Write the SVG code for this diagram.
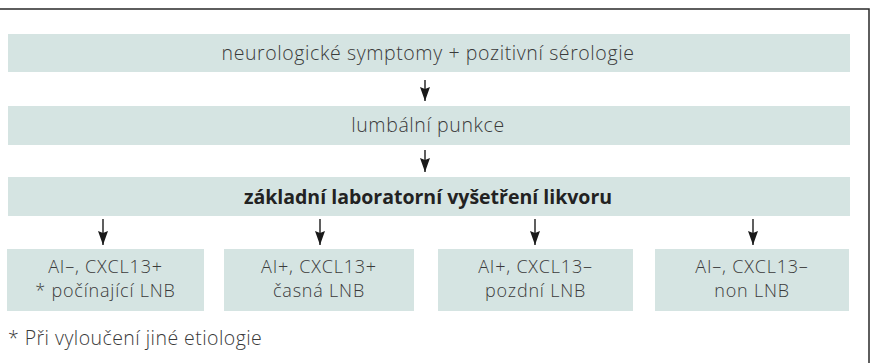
<svg xmlns="http://www.w3.org/2000/svg" width="871" height="363" viewBox="0 0 871 363">
<style>
.box{fill:#d5e4e2}
.t{font-family:"Open Sans","Noto Sans","Liberation Sans",sans-serif;font-size:19.5px;font-weight:300;letter-spacing:0.6px;fill:#3a3a3a;text-anchor:middle}
.s{font-size:18px;letter-spacing:0.8px}
.b{font-weight:bold;letter-spacing:0;fill:#222}
.f{text-anchor:start;letter-spacing:0.45px}
.c{stroke:#1a1a1a;stroke-width:1.4;fill:none}
.frame{stroke:#2a2a2a;stroke-width:1.5;fill:none}
</style>
<defs>
<marker id="ah" viewBox="0 0 14 10" refX="14" refY="5" markerWidth="14" markerHeight="10" markerUnits="userSpaceOnUse" orient="auto">
<path d="M0,0 L14,5 L0,10 L2,5 Z" fill="#1a1a1a"/>
</marker>
</defs>
<rect width="871" height="363" fill="#ffffff"/>
<path class="frame" d="M0,9 H869 V363"/>
<g id="n1"><rect class="box" x="8" y="34" width="842" height="38"/><text class="t" x="428" y="60">neurologické symptomy + pozitivní sérologie</text></g>
<g id="n2"><rect class="box" x="8" y="106" width="842" height="39"/><text class="t" x="428" y="132">lumbální punkce</text></g>
<g id="n3"><rect class="box" x="8" y="177" width="842" height="39"/><text class="t b" x="428" y="204">základní laboratorní vyšetření likvoru</text></g>
<g id="n4"><rect class="box" x="7" y="249" width="197" height="62"/><text class="t s" x="105.5" y="272.5">AI–, CXCL13+</text><text class="t s" x="105.5" y="297">* počínající LNB</text></g>
<g id="n5"><rect class="box" x="224" y="249" width="190" height="62"/><text class="t s" x="319" y="272.5">AI+, CXCL13+</text><text class="t s" x="319" y="297">časná LNB</text></g>
<g id="n6"><rect class="box" x="438" y="249" width="195" height="62"/><text class="t s" x="535.5" y="272.5">AI+, CXCL13–</text><text class="t s" x="535.5" y="297">pozdní LNB</text></g>
<g id="n7"><rect class="box" x="655" y="249" width="194" height="62"/><text class="t s" x="752" y="272.5">AI–, CXCL13–</text><text class="t s" x="752" y="297">non LNB</text></g>
<g id="connectors">
<line class="c" x1="425" y1="80" x2="425" y2="101" marker-end="url(#ah)"/>
<line class="c" x1="425" y1="150" x2="425" y2="172" marker-end="url(#ah)"/>
<line class="c" x1="103" y1="219" x2="103" y2="245" marker-end="url(#ah)"/>
<line class="c" x1="320" y1="219" x2="320" y2="245" marker-end="url(#ah)"/>
<line class="c" x1="535" y1="219" x2="535" y2="245" marker-end="url(#ah)"/>
<line class="c" x1="753" y1="219" x2="753" y2="245" marker-end="url(#ah)"/>
</g>
<text class="t f" x="8" y="345">* Při vyloučení jiné etiologie</text>
</svg>
